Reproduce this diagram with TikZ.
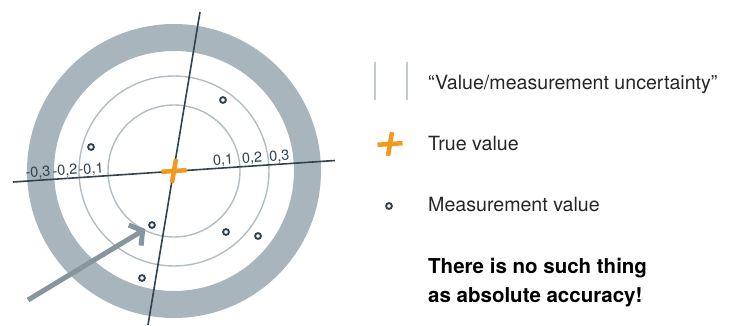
\documentclass[tikz,border=0pt]{standalone}
\usepackage{fontspec}
\setmainfont{TeX Gyre Heros}
\usetikzlibrary{arrows.meta}
\definecolor{ringgray}{RGB}{169,181,188}
\definecolor{slate}{RGB}{47,66,79}
\definecolor{arrowgray}{RGB}{134,150,158}
\definecolor{crossorange}{RGB}{243,154,30}
\definecolor{textgray}{RGB}{38,38,38}
\tikzset{
    dot/.style={circle, draw=slate, line width=1.9pt, minimum size=5.8pt, inner sep=0pt},
    axis/.style={draw=slate, line width=1.6pt},
    ticklabel/.style={sloped, above, inner sep=0.3pt, text=slate, font=\fontsize{14.5}{14.5}\selectfont},
    legendtext/.style={anchor=base west, inner sep=0pt, text=textgray, font=\fontsize{19.6}{28}\selectfont},
    cross/.style={crossorange, line width=4.5pt},
}
\begin{document}
\begin{tikzpicture}[x=1pt,y=-1pt]
            \useasboundingbox (0,0) rectangle (736,326);
            \def\cx{174}
            \def\cy{171}
            \coordinate (c) at (\cx,\cy);

            % uncertainty ring and circles
            \draw[ringgray, line width=27pt] (c) circle (133.5pt);
            \foreach \r in {66,95}{
                    \draw[ringgray!90, line width=1.4pt] (c) circle (\r pt);
                }

            % axes
            \coordinate (vt) at (200,12);
            \coordinate (vb) at (148,325);
            \coordinate (hl) at (13,182);
            \coordinate (hr) at (335,160.5);
            \draw[axis] (vt) -- (vb);
            \draw[axis] (hl) -- (hr)
                node[ticklabel, pos=0.079] (lm3) {-0,3}
                node[ticklabel, pos=0.163] (lm2) {-0,2}
                node[ticklabel, pos=0.244] (lm1) {-0,1}
                node[ticklabel, pos=0.654] (lp1) {0,1}
                node[ticklabel, pos=0.744] (lp2) {0,2}
                node[ticklabel, pos=0.829] (lp3) {0,3};

            % true value
            \draw[cross] (161.5,171.8) -- (186.5,170.2);
            \draw[cross] (176,159.2) -- (172,182.8);

            % measurement values
            \foreach \p [count=\i] in {(223,100),(91,147),(152,225),(226,232),(258,236),(142,278)}{
                    \node[dot] (m\i) at \p {};
                }

            \coordinate (arr) at (28,300);
            \draw[arrowgray, line width=5pt, -{Straight Barb[length=9pt, width=24pt]}, shorten >=4pt] (arr) -- (m3);

            % legend
            \coordinate (u1t) at (375,62);
            \coordinate (u1b) at (375,100);
            \coordinate (u2t) at (407,62);
            \coordinate (u2b) at (407,100);
            \draw[ringgray!70, line width=1.5pt] (u1t) -- (u1b) (u2t) -- (u2b);
            \node[legendtext] (tunc) at (428,89.3) {“Value/measurement uncertainty”};

            \draw[cross] (377.5,144.8) -- (402.5,143.2);
            \draw[cross] (392,132.2) -- (388,155.8);
            \node[legendtext] (ttrue) at (428,150.7) {True value};

            \node[dot] (mleg) at (389,206) {};
            \node[legendtext] (tmeas) at (428,211.7) {Measurement value};

            \node[legendtext, text=black, font=\fontsize{20.5}{28.5}\selectfont\bfseries, align=left] (tnote) at (428,302.3) {There is no such thing\\as absolute accuracy!};
        \end{tikzpicture}
\end{document}
